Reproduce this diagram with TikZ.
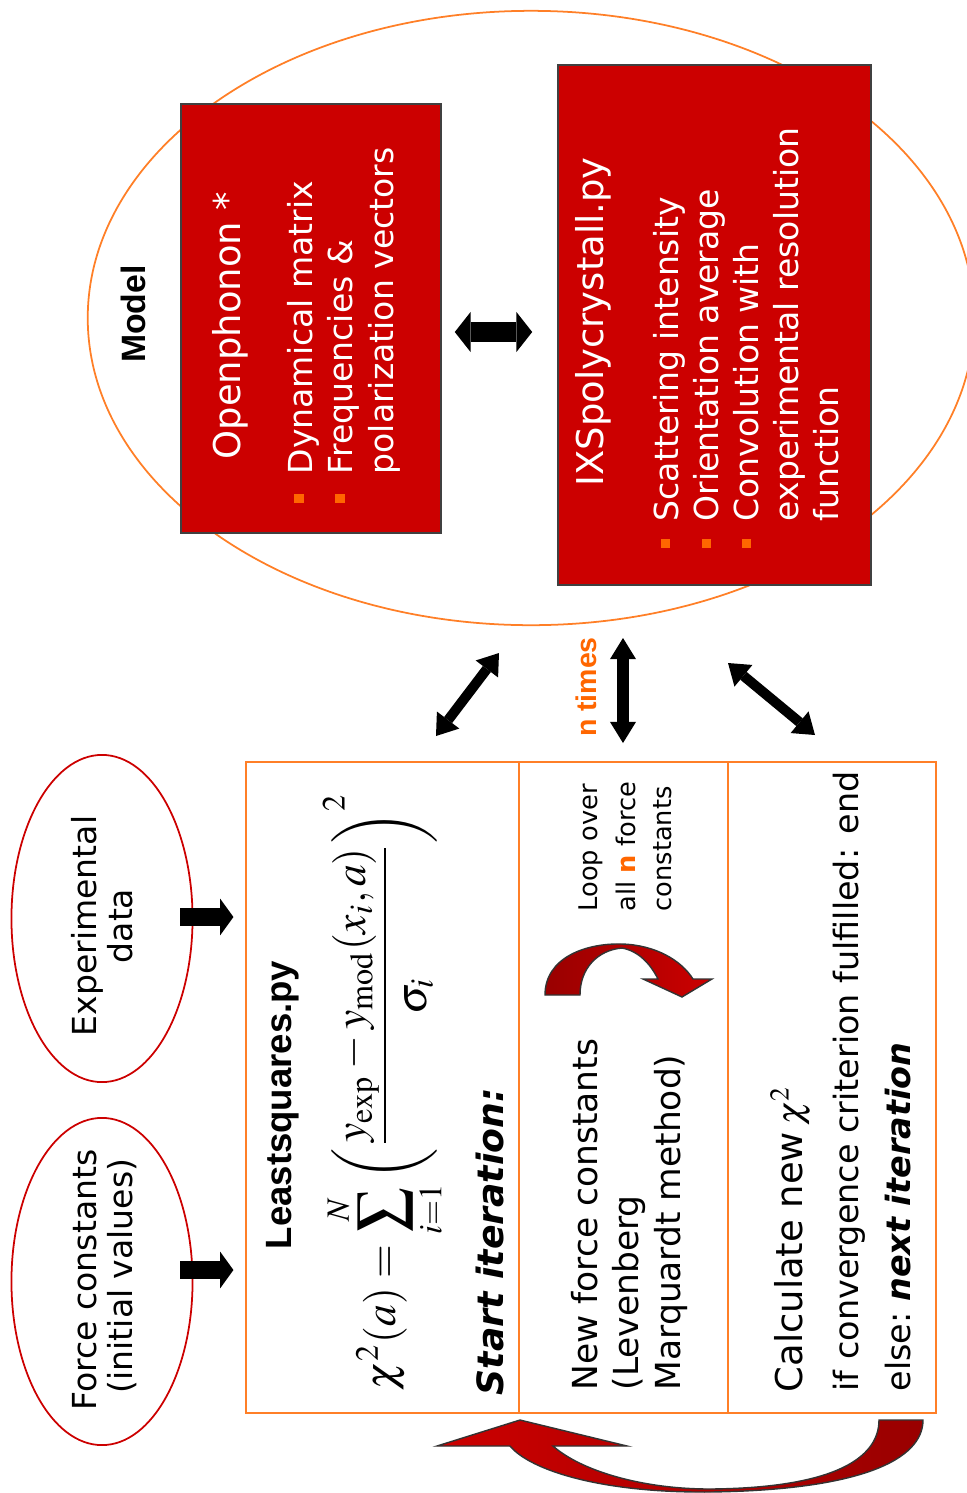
\documentclass[tikz,border=0pt]{standalone}
\usepackage{graphicx}
\usepackage{mathptmx}
\usepackage[no-math]{fontspec}
\setmainfont{DejaVu Sans}[BoldFont={* Bold},ItalicFont={* Oblique},BoldItalicFont={* Bold Oblique}]
\newfontfamily\arialfont{Liberation Sans}
\usetikzlibrary{shapes.geometric,arrows.meta,calc}
\definecolor{boxred}{HTML}{CC0000}
\definecolor{deepred}{HTML}{990000}
\definecolor{orng}{HTML}{FF6600}
\definecolor{lineorange}{HTML}{FF7F27}

\begin{document}
\begin{tikzpicture}[x=0.01cm,y=-0.01cm,
  rtxt/.style={rotate=90,anchor=base west,inner sep=0pt},
  redbox/.style={draw=black!75,fill=boxred,line width=0.4pt,inner sep=0pt},
  title/.style={rtxt,text=white,font=\fontsize{10.5}{12}\selectfont},
  item/.style={rtxt,text=white,font=\fontsize{9.4}{11}\selectfont},
  bul/.style={fill=orng,minimum size=0.09cm,inner sep=0pt},
  cell/.style={rtxt,font=\fontsize{9.5}{11}\selectfont},
  etxt/.style={rotate=90,anchor=base,inner sep=0pt,font=\fontsize{9.4}{11}\selectfont},
  oval/.style={ellipse,draw=#1,line width=0.5pt,inner sep=0pt},
  dbl/.style args={#1/#2/#3}{line width=#1,arrows={Triangle[width=#2,length=#3,line width=0pt]-Triangle[width=#2,length=#3,line width=0pt]}},
  push/.style={line width=5.1pt,arrows={-Triangle[width=10.5pt,length=3.8pt,line width=0pt]}},
  ribbon/.style={draw=black!80,line width=0.4pt}]
  \useasboundingbox (0,0) rectangle (967,1493);

  % model
  \node[oval=lineorange,minimum width=8.86cm,minimum height=6.14cm] (model) at (531,318) {};
  \node[rotate=90,inner sep=0pt,font=\arialfont\bfseries\fontsize{9.6}{11}\selectfont] (modeltxt) at (133,314) {Model};

  \node[redbox,minimum width=2.6cm,minimum height=4.29cm] (oph) at (311,318.5) {};
  \node[title] (ophtitle) at (240,460) {Openphonon *};
  \foreach \txt/\bl [count=\i] in {Dynamical matrix/312,Frequencies \&/352,polarization vectors/393}
    \node[item] (oph\i) at (\bl,475) {\txt};
  \node[bul] (ophb1) at (299,498) {};
  \node[bul] (ophb2) at (340,498) {};

  \node[redbox,minimum width=3.13cm,minimum height=5.2cm] (ixs) at (714.5,325) {};
  \node[title] (ixstitle) at (603,487) {IXSpolycrystall.py};
  \foreach \txt/\bl [count=\i] in {Scattering intensity/678,Orientation average/718,Convolution with/758,experimental resolution/798,function/838}
    \node[item] (ixs\i) at (\bl,522) {\txt};
  \foreach \bl [count=\i] in {665,706,746}
    \node[bul] (ixsb\i) at (\bl,543) {};

  \draw[dbl=5.7pt/11.4pt/4.5pt] ($(oph.east)+(13,13.5)$) -- ($(ixs.west)+(-25,7)$);

  % inputs
  \node[oval=boxred,minimum width=1.81cm,minimum height=3.27cm] (fc) at (102,1281.5) {};
  \node[etxt] (fc1) at (97,1280) {Force constants};
  \node[etxt] (fc2) at (133,1276) {(initial values)};
  \node[oval=boxred,minimum width=1.81cm,minimum height=3.27cm] (ed) at (102,918.5) {};
  \node[etxt] (ed1) at (97,926) {Experimental};
  \node[etxt] (ed2) at (132,926) {data};

  \draw[push] ($(ed.east)+(-13,-1.5)$) -- ++(53,0);
  \draw[push] ($(fc.east)+(-13,-11.5)$) -- ++(53,0);

  % fit table
  \draw[lineorange,line width=0.7pt] (246,762) rectangle (936,1413)
    (519,762) -- (519,1413) (728,762) -- (728,1413);

  \node[rtxt,font=\arialfont\bfseries\fontsize{10.4}{12}\selectfont] (lsq) at (291,1250) {Leastsquares.py};
  \node[rotate=90,inner sep=0pt] (chi) at (384.5,1091.5)
    {\resizebox*{5.97cm}{1.23cm}{$\displaystyle \chi^{2}(a)=\sum_{i=1}^{N}\left(\frac{y_{\mathrm{exp}}-y_{\mathrm{mod}}(x_{i},a)}{\sigma_{i}}\right)^{2}$}};
  \node[rtxt,font=\bfseries\itshape\fontsize{10.3}{12}\selectfont] (start) at (503,1396) {Start iteration:};

  \foreach \txt/\bl [count=\i] in {{New force constants}/597,{(Levenberg}/638,{Marquardt method)}/680}
    \node[cell,font=\fontsize{9.8}{11}\selectfont] (lm\i) at (\bl,1391) {\txt};
  \node[rtxt,font=\fontsize{7.3}{9}\selectfont] (loop1) at (597,912) {Loop over};
  \node[rtxt,font=\fontsize{7.3}{9}\selectfont] (loop2) at (635,912) {all \textcolor{orng}{\textbf{n}} force};
  \node[rtxt,font=\fontsize{7.3}{9}\selectfont] (loop3) at (671,912) {constants};
  \shadedraw[ribbon,left color=deepred,right color=boxred]
    (545,995) .. controls (545,958) and (585,943) .. (622,944)
    .. controls (655,945) and (681,960) .. (693,979) -- (712,979) -- (682,997) -- (643,979) -- (658,979)
    .. controls (650,963) and (638,951) .. (622,948)
    .. controls (598,950) and (580,968) .. (580,995) -- cycle;

  \node[rtxt,font=\fontsize{10.5}{12}\selectfont] (newchi) at (802,1393) {Calculate new\,$\chi^{2}$};
  \node[cell] (conv) at (858,1392) {if convergence criterion fulfilled: end};
  \node[cell] (other) at (910,1392) {else:\ \textbf{\itshape next iteration}};

  % loop back
  \shadedraw[ribbon,left color=boxred,right color=deepred]
    (923,1420) .. controls (923,1460) and (860,1490) .. (710,1492)
    .. controls (600,1493) and (530,1470) .. (510,1446) -- (437,1446) -- (520,1420) -- (627,1446) -- (553,1446)
    .. controls (580,1470) and (640,1489) .. (710,1489)
    .. controls (830,1488) and (879,1460) .. (879,1420) -- cycle;

  % exchange with the model
  \node[rotate=90,inner sep=0pt,text=orng,font=\arialfont\bfseries\fontsize{8.1}{10}\selectfont] (ntimes) at (586,687) {n times};
  \coordinate (l1) at (436,736);
  \coordinate (l2) at (499,653);
  \coordinate (m1) at (623,743);
  \coordinate (m2) at (623,638);
  \coordinate (r1) at (815,735);
  \coordinate (r2) at (728,663);
  \draw[dbl=2.85pt/8pt/5.7pt] (l1) -- (l2);
  \draw[dbl=3.4pt/7.4pt/6pt] (m1) -- (m2);
  \draw[dbl=2.85pt/8pt/5.7pt] (r1) -- (r2);
\end{tikzpicture}
\end{document}
